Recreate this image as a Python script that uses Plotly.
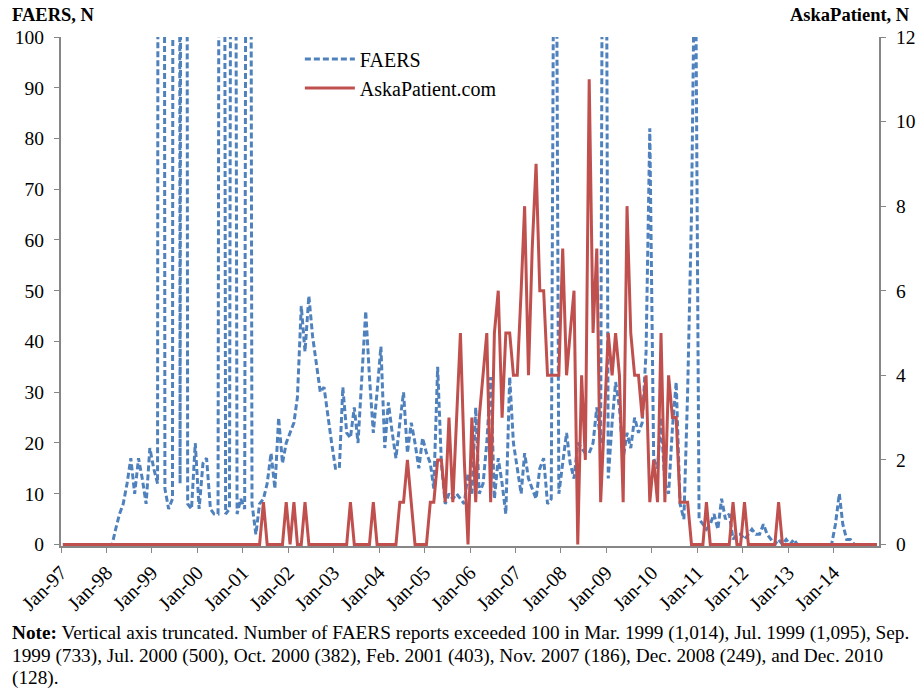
import plotly.graph_objects as go
import pandas as pd

# Monthly data, Jan-1997 .. Dec-2014
faers = [
    # 1997
    0, 0, 0, 0, 0, 0, 0, 0, 0, 0, 0, 0,
    # 1998
    0, 0, 3, 6, 8, 12, 17, 10, 17, 13, 8, 19,
    # 1999
    15, 12, 1014, 11, 7, 9, 1095, 12, 733, 8, 7, 20,
    # 2000
    7, 16, 17, 7, 6, 6, 500, 6, 7, 382, 6, 9,
    # 2001
    7, 403, 8, 2, 8, 9, 12, 18, 11, 25, 16, 20,
    # 2002
    22, 24, 29, 47, 38, 49, 41, 36, 30, 31, 25, 20,
    # 2003
    15, 15, 31, 22, 21, 27, 20, 33, 46, 33, 22, 30,
    # 2004
    39, 19, 28, 22, 17, 24, 30, 18, 24, 20, 15, 21,
    # 2005
    18, 16, 11, 35, 16, 8, 10, 9, 10, 9, 8, 14,
    # 2006
    10, 27, 10, 12, 20, 33, 9, 17, 12, 6, 33, 20,
    # 2007
    15, 10, 18, 13, 11, 9, 15, 17, 8, 9, 186, 10,
    # 2008
    16, 22, 16, 13, 20, 19, 18, 18, 20, 27, 20, 249,
    # 2009
    13, 24, 32, 27, 17, 22, 19, 25, 22, 24, 38, 82,
    # 2010
    17, 15, 25, 12, 10, 23, 32, 8, 5, 30, 65, 128,
    # 2011
    5, 4, 3, 4, 6, 3, 9, 5, 6, 1, 2, 2,
    # 2012
    1, 2, 3, 2, 2, 4, 2, 1, 0, 1, 0, 1,
    # 2013
    0, 1, 0, 0, 0, 0, 0, 0, 0, 0, 0, 0,
    # 2014
    4, 10, 4, 1, 1, 0, 0, 0, 0, 0, 0, 0,
]

askapatient = [
    # 1997-2000
    0, 0, 0, 0, 0, 0, 0, 0, 0, 0, 0, 0,
    0, 0, 0, 0, 0, 0, 0, 0, 0, 0, 0, 0,
    0, 0, 0, 0, 0, 0, 0, 0, 0, 0, 0, 0,
    0, 0, 0, 0, 0, 0, 0, 0, 0, 0, 0, 0,
    # 2001
    0, 0, 0, 0, 0, 1, 0, 0, 0, 0, 0, 1,
    # 2002
    0, 1, 0, 0, 1, 0, 0, 0, 0, 0, 0, 0,
    # 2003
    0, 0, 0, 0, 1, 0, 0, 0, 0, 0, 1, 0,
    # 2004
    0, 0, 0, 0, 0, 1, 1, 2, 1, 0, 0, 0,
    # 2005
    0, 1, 1, 2, 2, 1, 3, 1, 3, 5, 2, 0,
    # 2006
    3, 1, 3, 4, 5, 1, 5, 6, 3, 5, 5, 4,
    # 2007
    4, 6, 8, 4, 7, 9, 6, 6, 4, 4, 4, 4,
    # 2008
    7, 4, 5, 6, 0, 4, 2, 11, 5, 7, 1, 3,
    # 2009
    5, 4, 5, 4, 1, 8, 5, 4, 4, 3, 4, 1,
    # 2010
    2, 1, 5, 1, 4, 3, 3, 1, 1, 1, 0, 0,
    # 2011
    0, 0, 1, 0, 0, 0, 0, 0, 0, 1, 0, 0,
    # 2012
    1, 0, 0, 0, 0, 0, 0, 0, 0, 1, 0, 0,
    # 2013
    0, 0, 0, 0, 0, 0, 0, 0, 0, 0, 0, 0,
    # 2014
    0, 0, 0, 0, 0, 0, 0, 0, 0, 0, 0, 0,
]

tick_years = list(range(1997, 2015))
tick_labels = ["Jan-%02d" % (y % 100) for y in tick_years]
tick_dates = ["%d-01-01" % y for y in tick_years]

note_lines = [
    "<b>Note:</b> Vertical axis truncated. Number of FAERS reports exceeded 100 in Mar. 1999 (1,014), Jul. 1999 (1,095), Sep.",
    "1999 (733), Jul. 2000 (500), Oct. 2000 (382), Feb. 2001 (403), Nov. 2007 (186), Dec. 2008 (249), and Dec. 2010",
    "(128).",
]

month_starts = pd.date_range("1997-01-01", periods=len(faers), freq="MS")
x_mid = month_starts + pd.Timedelta(days=15)

FONT = "Liberation Serif, Times New Roman, serif"
BLUE = "#4F81BD"
RED = "#C0504D"
AXIS = "#868686"

fig = go.Figure()
fig.add_trace(go.Scatter(
    x=x_mid, y=faers, name="FAERS", mode="lines",
    line=dict(color=BLUE, width=3, dash="6px,3px"),
    yaxis="y",
))
fig.add_trace(go.Scatter(
    x=x_mid, y=askapatient, name="AskaPatient.com", mode="lines",
    line=dict(color=RED, width=3),
    yaxis="y2",
))

annotations = [
    dict(text="<b>FAERS, N</b>", xref="paper", yref="paper",
         x=-0.0625, y=1.0, yshift=22, xanchor="left", yanchor="middle",
         showarrow=False, font=dict(size=18.5, family=FONT)),
    dict(text="<b>AskaPatient, N</b>", xref="paper", yref="paper",
         x=1.0403, y=1.0, yshift=22, xanchor="right", yanchor="middle",
         showarrow=False, font=dict(size=18.5, family=FONT)),
]
for k, line in enumerate(note_lines):
    annotations.append(dict(
        text=line, xref="paper", yref="paper",
        x=-0.0625, y=0, yshift=-87 - 22.5 * k,
        xanchor="left", yanchor="middle", align="left",
        showarrow=False, font=dict(size=19.3, family=FONT)))

fig.update_layout(
    width=917, height=688,
    margin=dict(l=61, r=38, t=37, b=142, autoexpand=False),
    paper_bgcolor="white", plot_bgcolor="white",
    font=dict(family=FONT, size=18, color="black"),
    showlegend=True,
    legend=dict(x=0.292, y=0.995, xanchor="left", yanchor="top",
                bgcolor="rgba(0,0,0,0)", font=dict(size=20, family=FONT),
                itemwidth=50),
    xaxis=dict(
        type="date",
        range=["1997-01-01", "2015-01-01"],
        tickvals=tick_dates, ticktext=tick_labels,
        tickangle=-45,
        ticks="outside", ticklen=5, tickcolor=AXIS,
        showline=True, linecolor=AXIS, linewidth=2,
        showgrid=False, zeroline=False,
        tickfont=dict(size=20, family=FONT),
    ),
    yaxis=dict(
        range=[-0.3, 100], tickvals=list(range(0, 101, 10)),
        ticks="outside", ticklen=5, tickcolor=AXIS,
        showline=True, linecolor=AXIS, linewidth=2,
        showgrid=False, zeroline=False,
        ticklabelstandoff=6,
        tickfont=dict(size=19.5, family=FONT),
    ),
    yaxis2=dict(
        range=[-0.036, 12], tickvals=list(range(0, 13, 2)),
        overlaying="y", side="right",
        ticks="outside", ticklen=5, tickcolor=AXIS,
        showline=True, linecolor=AXIS, linewidth=2,
        showgrid=False, zeroline=False,
        ticklabelstandoff=6,
        tickfont=dict(size=19.5, family=FONT),
    ),
    annotations=annotations,
)

fig.write_html("out.html",
               config={"displayModeBar": False},
               post_script="document.body.style.margin='0';document.body.style.padding='0';")
